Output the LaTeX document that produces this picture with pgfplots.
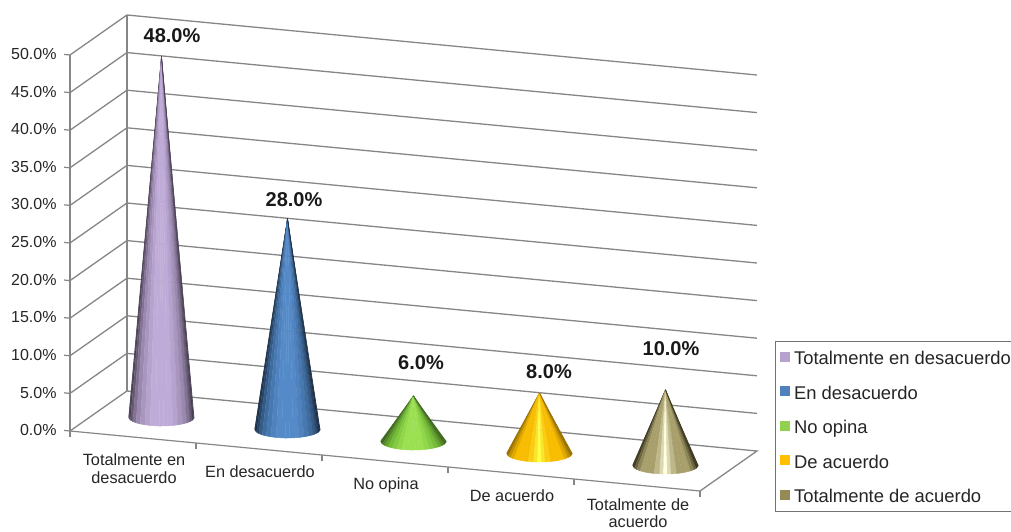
\documentclass[border=0pt]{standalone}
\usepackage{fontspec}
\setmainfont{Liberation Sans}
\usepackage{pgfplots}
\pgfplotsset{compat=1.18}
\definecolor{gridc}{HTML}{868686}
\definecolor{pa}{HTML}{4A3F55}\definecolor{pb}{HTML}{9A88AE}\definecolor{pc}{HTML}{BFABD8}
\definecolor{ba}{HTML}{1B2F47}\definecolor{bb}{HTML}{3F6C9F}\definecolor{bc}{HTML}{548AC8}
\definecolor{ga}{HTML}{3F6A1F}\definecolor{gb}{HTML}{74BB38}\definecolor{gc}{HTML}{9BE050}
\definecolor{ya}{HTML}{9A7200}\definecolor{yb}{HTML}{F8BC00}\definecolor{yc}{HTML}{FFFF48}
\definecolor{oa}{HTML}{3E3A20}\definecolor{ob}{HTML}{A89F6C}\definecolor{oc}{HTML}{FFFFE0}
% soft palette: dark edge, mid tone, light centre
\newcommand\palA[4]{\colorlet{#11}{#2}\colorlet{#12}{#2!65!#3}\colorlet{#13}{#2!30!#3}\colorlet{#14}{#3}\colorlet{#15}{#3!60!#4}\colorlet{#16}{#3!25!#4}\colorlet{#17}{#4}\colorlet{#18}{#4}\colorlet{#19}{#4}}
% palette with a narrow highlight in the centre
\newcommand\palB[4]{\colorlet{#11}{#2}\colorlet{#12}{#2!60!#3}\colorlet{#13}{#2!25!#3}\colorlet{#14}{#3}\colorlet{#15}{#3}\colorlet{#16}{#3}\colorlet{#17}{#3!75!#4}\colorlet{#18}{#3!40!#4}\colorlet{#19}{#4}}
\palA{pur}{pa}{pb}{pc}
\palA{blu}{ba}{bb}{bc}
\palA{gre}{ga}{gb}{gc}
\palB{yel}{ya}{yb}{yc}
\palB{oli}{oa}{ob}{oc}
\newcommand\wdg[7]{\pgfmathsetmacro\xa{#1+#3}\pgfmathsetmacro\xb{#1+#5}%
  \addplot[fill=#7,draw=#7,line width=.5pt,line join=round,forget plot,xshift=28.5pt,yshift=20pt] coordinates {(#1,#2)(\xa,#4)(\xb,#6)};}
\newcommand\cone[3]{%
  \wdg{#1}{#2}{-.260}{-.418}{-.256}{-.620}{#31}%
  \wdg{#1}{#2}{-.256}{-.620}{-.246}{-.802}{#31}%
  \wdg{#1}{#2}{-.246}{-.802}{-.227}{-.961}{#32}%
  \wdg{#1}{#2}{-.227}{-.961}{-.201}{-1.090}{#33}%
  \wdg{#1}{#2}{-.201}{-1.090}{-.168}{-1.186}{#34}%
  \wdg{#1}{#2}{-.168}{-1.186}{-.131}{-1.246}{#35}%
  \wdg{#1}{#2}{-.131}{-1.246}{-.090}{-1.268}{#36}%
  \wdg{#1}{#2}{-.090}{-1.268}{-.046}{-1.252}{#37}%
  \wdg{#1}{#2}{-.046}{-1.252}{-.015}{-1.225}{#38}%
  \wdg{#1}{#2}{-.015}{-1.225}{.015}{-1.165}{#39}%
  \wdg{#1}{#2}{.015}{-1.165}{.046}{-1.106}{#38}%
  \wdg{#1}{#2}{.046}{-1.106}{.090}{-.982}{#37}%
  \wdg{#1}{#2}{.090}{-.982}{.131}{-.828}{#36}%
  \wdg{#1}{#2}{.131}{-.828}{.168}{-.648}{#35}%
  \wdg{#1}{#2}{.168}{-.648}{.201}{-.450}{#34}%
  \wdg{#1}{#2}{.201}{-.450}{.227}{-.237}{#33}%
  \wdg{#1}{#2}{.227}{-.237}{.246}{-.016}{#32}%
  \wdg{#1}{#2}{.246}{-.016}{.256}{.204}{#31}%
  \wdg{#1}{#2}{.256}{.204}{.260}{.418}{#31}%
}
\begin{document}
\begin{tikzpicture}[x=1pt,y=1pt]
\path[use as bounding box,clip] (-70,-101) rectangle (941,431);
\begin{axis}[
  at={(0,0)},anchor=origin,
  x={(126pt,-12pt)},y={(0pt,7.52pt)},
  xmin=0,xmax=5,ymin=0,ymax=50,clip=false,
  axis x line*=bottom,axis y line*=left,
  axis line style={gridc,line width=1.2pt,-},
  tick style={gridc,line width=1.2pt},
  tick align=outside,major tick length=6pt,minor tick length=6pt,
  xtick={0.5,1.5,2.5,3.5},
  minor xtick={0,1,2,3,4,5},
  major x tick style={draw=none},
  xticklabels={{Totalmente en\\desacuerdo},{En desacuerdo},{No opina},{De acuerdo}},
  extra x ticks={4.5},
  extra x tick labels={{Totalmente de\\acuerdo}},
  extra x tick style={tick style={draw=none},xticklabel style={yshift=3.5pt}},
  xticklabel style={font=\fontsize{16.3}{17.3}\selectfont,align=center,anchor=north,yshift=-7.5pt,xshift=1pt,text=black!85},
  ytick={0,5,10,15,20,25,30,35,40,45,50},
  yticklabel={\pgfmathprintnumber[fixed,fixed zerofill,precision=1,/pgf/number format/assume math mode=true]{\tick}\%},
  yticklabel style={font=\fontsize{16}{18}\selectfont,text=black!85,xshift=-4pt,yshift=-2pt},
  legend image code/.code={\fill[#1,draw=none] (0pt,-4pt) rectangle (10pt,6pt);\path (14pt,0pt);},
  legend cell align=left,
  legend style={at={(axis cs:5.595,20.9)},anchor=north west,draw=black!55,line width=1.1pt,
    font=\fontsize{18.4}{20}\selectfont,inner xsep=4pt,inner ysep=8pt,row sep=18.5pt,
    nodes={inner sep=0pt,text height=15pt,text depth=1pt},text=black!85},
]
% walls and floor
\addplot[gridc,line width=1.3pt,forget plot] coordinates {(0.452,56.04)(0.452,6.04)};
\addplot[gridc,line width=1.3pt,forget plot] coordinates {(0,0)(0.452,6.04)(5.452,6.04)(5,0)};
\addplot[gridc,line width=1.3pt,forget plot] coordinates {(0,5)(0.452,11.04)(5.452,11.04)};
\addplot[gridc,line width=1.3pt,forget plot] coordinates {(0,10)(0.452,16.04)(5.452,16.04)};
\addplot[gridc,line width=1.3pt,forget plot] coordinates {(0,15)(0.452,21.04)(5.452,21.04)};
\addplot[gridc,line width=1.3pt,forget plot] coordinates {(0,20)(0.452,26.04)(5.452,26.04)};
\addplot[gridc,line width=1.3pt,forget plot] coordinates {(0,25)(0.452,31.04)(5.452,31.04)};
\addplot[gridc,line width=1.3pt,forget plot] coordinates {(0,30)(0.452,36.04)(5.452,36.04)};
\addplot[gridc,line width=1.3pt,forget plot] coordinates {(0,35)(0.452,41.04)(5.452,41.04)};
\addplot[gridc,line width=1.3pt,forget plot] coordinates {(0,40)(0.452,46.04)(5.452,46.04)};
\addplot[gridc,line width=1.3pt,forget plot] coordinates {(0,45)(0.452,51.04)(5.452,51.04)};
\addplot[gridc,line width=1.3pt,forget plot] coordinates {(0,50)(0.452,56.04)(5.452,56.04)};
% cones
\cone{0.5}{48}{pur}
\cone{1.5}{28}{blu}
\cone{2.5}{6}{gre}
\cone{3.5}{8}{yel}
\cone{4.5}{10}{oli}
% legend
\addlegendimage{fill=pc!95!black}\addlegendentry{Totalmente en desacuerdo}
\addlegendimage{fill={rgb,255:red,79;green,129;blue,189}}\addlegendentry{En desacuerdo}
\addlegendimage{fill={rgb,255:red,146;green,208;blue,80}}\addlegendentry{No opina}
\addlegendimage{fill={rgb,255:red,255;green,192;blue,0}}\addlegendentry{De acuerdo}
\addlegendimage{fill={rgb,255:red,148;green,138;blue,84}}\addlegendentry{Totalmente de acuerdo}
% value labels
\tikzset{vl/.style={font=\bfseries\fontsize{20}{20}\selectfont,text=black!90,inner sep=0pt}}
\node[vl,xshift=39pt,yshift=40pt] at (axis cs:0.5,48) {48.0\%};
\node[vl,xshift=35pt,yshift=39pt] at (axis cs:1.5,28) {28.0\%};
\node[vl,xshift=36pt,yshift=53pt] at (axis cs:2.5,6) {6.0\%};
\node[vl,xshift=38pt,yshift=41pt] at (axis cs:3.5,8) {8.0\%};
\node[vl,xshift=34pt,yshift=61pt] at (axis cs:4.5,10) {10.0\%};
\end{axis}
\end{tikzpicture}
\end{document}
